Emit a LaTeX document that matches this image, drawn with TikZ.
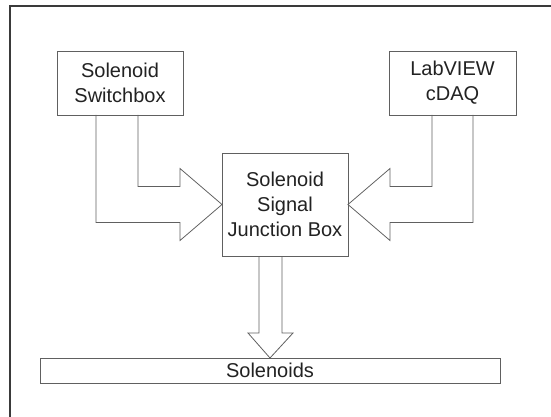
\documentclass[tikz,border=0pt]{standalone}
\usepackage{fontspec}
\setmainfont{Liberation Sans}
\usetikzlibrary{calc}
\definecolor{edge}{HTML}{606060}
\definecolor{frame}{HTML}{3A3A3A}
\definecolor{ink}{HTML}{222222}
\begin{document}
\begin{tikzpicture}[x=1pt,y=-1pt,
  box/.style={draw=edge,line width=0.9pt,fill=white,inner sep=0pt,outer sep=0pt,
    align=center,text=ink,font=\fontsize{20}{25}\selectfont},
  blockarrow/.style={draw=edge,line width=0.8pt,line join=miter}]
  \useasboundingbox (0,0) rectangle (551,417);
  % outer frame: only top and left edges
  \draw[frame,line width=1.3pt] (10,417) -- (10,6) -- (551,6);

  \node[box,minimum width=126pt,minimum height=64pt] (sw) at (120,83) {Solenoid\\Switchbox};
  \node[box,minimum width=127pt,minimum height=64pt] (lv) at (452.5,83) {LabVIEW\\cDAQ};
  \node[box,minimum width=126pt,minimum height=103pt] (jb) at (285,204.5) {Solenoid\\Signal\\Junction Box};
  \node[box,minimum width=460pt,minimum height=25pt] (sol) at (270,370.5) {Solenoids};

  % switchbox -> junction box
  \draw[blockarrow] ($(sw.south west)+(39,0)$) |- ($(jb.west)+(-42,18)$)
    -- ($(jb.west)+(-42,36)$) -- (jb.west) -- ($(jb.west)+(-42,-36)$)
    -- ($(jb.west)+(-42,-18)$) -| ($(sw.south west)+(81,0)$);
  % cDAQ -> junction box
  \draw[blockarrow] ($(lv.south west)+(84,0)$) |- ($(jb.east)+(42,18)$)
    -- ($(jb.east)+(42,36)$) -- (jb.east) -- ($(jb.east)+(42,-36)$)
    -- ($(jb.east)+(42,-18)$) -| ($(lv.south west)+(43,0)$);
  % junction box -> solenoids
  \draw[blockarrow] ($(sol.north |- jb.south)+(-11,0)$) -- ($(sol.north)+(-11,-25)$)
    -- ($(sol.north)+(-22,-25)$) -- (sol.north) -- ($(sol.north)+(23,-25)$)
    -- ($(sol.north)+(12,-25)$) -- ($(sol.north |- jb.south)+(12,0)$);
\end{tikzpicture}
\end{document}
